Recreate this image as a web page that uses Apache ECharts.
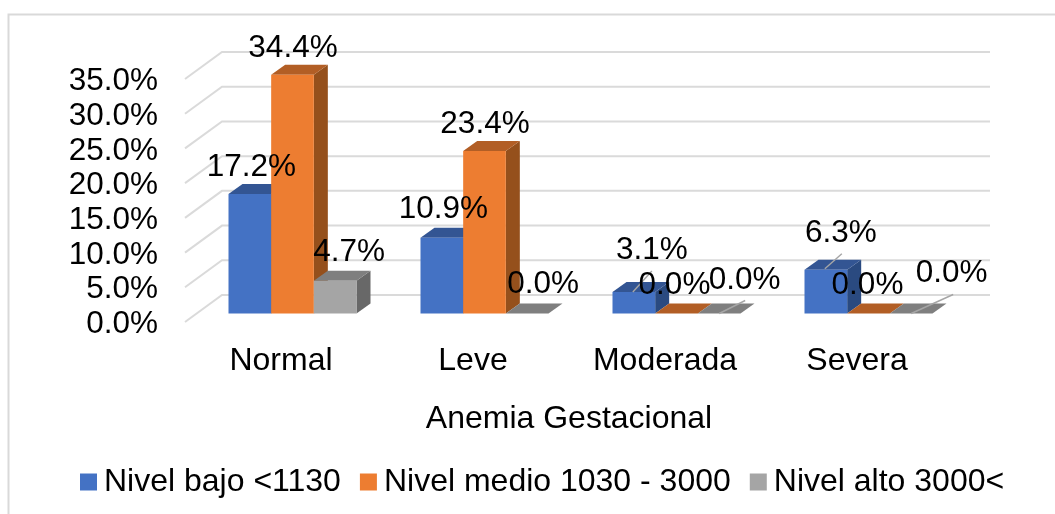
<!DOCTYPE html>
<html>
<head>
<meta charset="utf-8">
<style>html,body{margin:0;padding:0;background:#fff}#c{width:1055px;height:514px}</style>
<script src="https://cdn.jsdelivr.net/npm/echarts@6/dist/echarts.min.js"></script>
</head>
<body>
<div id="c"></div>
<script>
var categories = ['Normal', 'Leve', 'Moderada', 'Severa'];
var seriesNames = ['Nivel bajo <1130', 'Nivel medio 1030 - 3000', 'Nivel alto 3000<'];
var nivelBajo = [17.2, 10.9, 3.1, 6.3];
var nivelMedio = [34.4, 23.4, 0.0, 0.0];
var nivelAlto = [4.7, 0.0, 0.0, 0.0];
var yTicks = [0, 5, 10, 15, 20, 25, 30, 35];

// layout only: 3D look and hand-placed label offsets (dx, dy from the bar's top-centre on its front face)
var FONT = '"Liberation Sans", Arial, sans-serif';
var FLOOR = [37, -27], BAR_SHIFT = [11.5, -8.5], BAR_DEPTH = [14, -10];
var faces = [
  {front: '#4472C4', top: '#335593', side: '#2A4A80'},
  {front: '#ED7D31', top: '#B25E25', side: '#95501C'},
  {front: '#A5A5A5', top: '#7F7F7F', side: '#686868'}
];
var labelOffsets = [
  [[1.5, -26.5], [1.5, -29], [18, -41.5], [15, -36.5]],
  [[0.5, -26], [0.5, -27], [-2, -28], [-1, -28]],
  [[14, -29], [16, -29], [25.5, -33.5], [40.5, -40.5]]
];
var leaders = [
  [null, null, [-1, 0, 18, -21], [-1, -1, 16, -16]],
  [null, null, null, null],
  [null, null, [0, 0, 26, -13], [0, 0, 42, -19]]
];

function barSeries(s, values) {
  return {
    type: 'custom',
    name: seriesNames[s],
    coordinateSystem: 'cartesian2d',
    clip: false,
    itemStyle: {color: faces[s].front},
    data: values.map(function (v, i) { return [i, v]; }),
    encode: {x: 0, y: 1},
    renderItem: function (params, api) {
      var i = api.value(0), v = api.value(1);
      var band = api.size([1, 0])[0];
      var w = band / 4.5;
      var top = api.coord([i, v]), base = api.coord([i, 0]);
      var x0 = top[0] + BAR_SHIFT[0] + (s - 1.5) * w;
      var x1 = x0 + w;
      var yt = top[1] + BAR_SHIFT[1], yb = base[1] + BAR_SHIFT[1];
      var dx = BAR_DEPTH[0], dy = BAR_DEPTH[1];
      var c = faces[s];
      var kids = [
        {type: 'polygon', shape: {points: [[x1, yt], [x1 + dx, yt + dy], [x1 + dx, yb + dy], [x1, yb]]}, style: {fill: c.side}},
        {type: 'polygon', shape: {points: [[x0, yt], [x0 + dx, yt + dy], [x1 + dx, yt + dy], [x1, yt]]}, style: {fill: c.top}},
        {type: 'rect', shape: {x: x0, y: yt, width: w, height: yb - yt}, style: {fill: c.front}}
      ];
      var cx = (x0 + x1) / 2;
      var off = labelOffsets[s][i];
      var lead = leaders[s][i];
      if (lead) {
        kids.push({type: 'line', z2: 90, shape: {x1: cx + lead[0], y1: yt + lead[1], x2: cx + lead[2], y2: yt + lead[3]},
          style: {stroke: '#A6A6A6', lineWidth: 1.4}});
      }
      kids.push({type: 'text', z2: 100, style: {
        text: v.toFixed(1) + '%', x: cx + off[0], y: yt + off[1],
        align: 'center', verticalAlign: 'middle', fill: '#000', fontSize: 31.5, fontFamily: FONT
      }});
      return {type: 'group', children: kids};
    }
  };
}

var gridSeries = {
  type: 'custom',
  name: 'grid',
  coordinateSystem: 'cartesian2d',
  clip: false,
  silent: true,
  z: 1,
  data: yTicks.map(function (t) { return [0, t]; }),
  encode: {x: 0, y: 1},
  renderItem: function (params, api) {
    var band = api.size([1, 0])[0];
    var p = api.coord([0, api.value(1)]);
    var q = api.coord([categories.length - 1, api.value(1)]);
    var x0 = p[0] - band / 2, y0 = p[1];
    var x2 = q[0] + band / 2 + FLOOR[0];
    return {type: 'polyline', shape: {points: [[x0, y0], [x0 + FLOOR[0], y0 + FLOOR[1]], [x2, y0 + FLOOR[1]]]},
      style: {fill: 'none', stroke: '#DADADA', lineWidth: 2}};
  }
};

var chart = echarts.init(document.getElementById('c'), null, {renderer: 'canvas'});
chart.setOption({
  animation: false,
  backgroundColor: '#fff',
  grid: {left: 185, right: 102, top: 79, bottom: 192},
  graphic: [{type: 'rect', z: -1, shape: {x: 8.5, y: 14.5, width: 1060, height: 520}, style: {fill: 'none', stroke: '#D9D9D9', lineWidth: 2}}],
  xAxis: {
    type: 'category',
    data: categories,
    name: 'Anemia Gestacional',
    nameLocation: 'middle',
    nameGap: 81,
    nameTextStyle: {fontSize: 32, fontFamily: FONT, color: '#000'},
    axisLine: {show: false},
    axisTick: {show: false},
    axisLabel: {fontSize: 32, fontFamily: FONT, color: '#000', margin: 23}
  },
  yAxis: {
    type: 'value',
    min: 0,
    max: 35,
    interval: 5,
    splitLine: {show: false},
    axisLine: {show: false},
    axisTick: {show: false},
    axisLabel: {margin: 27,
      rich: {t: {fontSize: 31.5, fontFamily: FONT, color: '#000', padding: [5, 0, 0, 0]}},
      formatter: function (v) { return '{t|' + v.toFixed(1) + '%}'; }}
  },
  legend: {
    data: seriesNames,
    left: 75,
    top: 461,
    icon: 'rect',
    itemWidth: 17,
    itemHeight: 17,
    itemGap: 19,
    selectedMode: false,
    textStyle: {fontSize: 32, fontFamily: FONT, color: '#000', padding: [0, 0, 0, 2]}
  },
  series: [gridSeries, barSeries(0, nivelBajo), barSeries(1, nivelMedio), barSeries(2, nivelAlto)]
});
</script>
</body>
</html>
